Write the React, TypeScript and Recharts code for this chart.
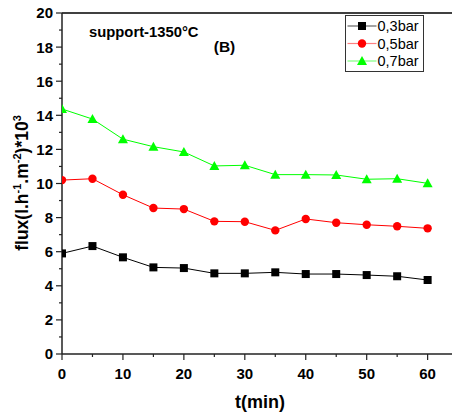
import { LineChart, Line, XAxis, YAxis, ReferenceLine } from 'recharts';

const times = [0, 5, 10, 15, 20, 25, 30, 35, 40, 45, 50, 55, 60];
const flux03 = [5.9, 6.33, 5.67, 5.08, 5.04, 4.73, 4.73, 4.79, 4.69, 4.69, 4.63, 4.56, 4.34];
const flux05 = [10.2, 10.28, 9.34, 8.56, 8.5, 7.78, 7.76, 7.25, 7.92, 7.7, 7.58, 7.49, 7.37];
const flux07 = [14.37, 13.78, 12.6, 12.16, 11.85, 11.03, 11.07, 10.52, 10.52, 10.5, 10.25, 10.28, 10.01];

const xTicks = [0, 5, 10, 15, 20, 25, 30, 35, 40, 45, 50, 55, 60];
const yTicks = [0, 1, 2, 3, 4, 5, 6, 7, 8, 9, 10, 11, 12, 13, 14, 15, 16, 17, 18, 19, 20];

const seriesNames = ['0,3bar', '0,5bar', '0,7bar'];
const seriesColors = ['#000000', '#ff0000', '#00ff00'];
const legendLineColors = ['#666666', '#ff8080', '#80ff80'];

const data = times.map((t, i) => ({
  t,
  p03: flux03[i],
  p05: flux05[i],
  p07: flux07[i],
}));

const FONT = '"Liberation Sans", Arial, sans-serif';
const AXIS = '#222';

function XTick({ x, y, payload }: any) {
  const major = payload.value % 10 === 0;
  return (
    <g>
      <line x1={x} x2={x} y1={y} y2={y + (major ? 6 : 3)} stroke={AXIS} strokeWidth={1.2} />
      {major && (
        <text x={x} y={y + 25} textAnchor="middle" fontFamily={FONT} fontWeight="bold" fontSize={15} fill="#000">
          {payload.value}
        </text>
      )}
    </g>
  );
}

function YTick({ x, y, payload }: any) {
  const major = payload.value % 2 === 0;
  return (
    <g>
      <line x1={x - (major ? 6 : 3)} x2={x} y1={y} y2={y} stroke={AXIS} strokeWidth={1.2} />
      {major && (
        <text x={x - 9} y={y} dy="0.36em" textAnchor="end" fontFamily={FONT} fontWeight="bold" fontSize={15} fill="#000">
          {payload.value}
        </text>
      )}
    </g>
  );
}

function SquareDot({ cx, cy }: any) {
  return <rect x={cx - 4} y={cy - 4} width={8} height={8} fill="#000" />;
}

function CircleDot({ cx, cy }: any) {
  return <circle cx={cx} cy={cy} r={4.2} fill="#ff0000" />;
}

function TriangleDot({ cx, cy }: any) {
  return <path d={`M${cx},${cy - 5} L${cx + 5},${cy + 4} L${cx - 5},${cy + 4} Z`} fill="#00ff00" />;
}

const markers = [SquareDot, CircleDot, TriangleDot];

function LegendBox() {
  const x0 = 345.5;
  const y0 = 15.5;
  return (
    <g>
      <rect x={x0} y={y0} width={78} height={56} fill="#fff" stroke="#333" strokeWidth={1} />
      {seriesNames.map((name, i) => {
        const cy = 26 + i * 17.5;
        const Marker = markers[i];
        return (
          <g key={name}>
            <line x1={x0 + 2} x2={x0 + 31} y1={cy} y2={cy} stroke={legendLineColors[i]} strokeWidth={1.2} />
            <Marker cx={x0 + 16.5} cy={cy} />
            <text x={x0 + 32} y={cy + 5} fontFamily={FONT} fontSize={14.5} fill="#000">
              {name}
            </text>
          </g>
        );
      })}
    </g>
  );
}

export default function App() {
  return (
    <div style={{ position: 'absolute', left: 0, top: 0, background: '#fff' }}>
      <LineChart
        width={452}
        height={417}
        data={data}
        margin={{ top: 13, right: 0, bottom: 0, left: 0 }}
      >
        <XAxis
          type="number"
          dataKey="t"
          domain={[0, 64]}
          ticks={xTicks}
          interval={0}
          height={63}
          tickSize={0}
          tickMargin={0}
          tick={<XTick />}
          axisLine={{ stroke: AXIS, strokeWidth: 1.5 }}
          allowDataOverflow
        />
        <YAxis
          type="number"
          domain={[0, 20]}
          ticks={yTicks}
          interval={0}
          width={62}
          tickSize={0}
          tickMargin={0}
          tick={<YTick />}
          axisLine={{ stroke: AXIS, strokeWidth: 1.5 }}
          allowDataOverflow
        />
        <ReferenceLine y={20} stroke="#000" strokeWidth={1.5} />
        <Line dataKey="p03" name={seriesNames[0]} stroke={seriesColors[0]} strokeWidth={1} dot={<SquareDot />} isAnimationActive={false} />
        <Line dataKey="p05" name={seriesNames[1]} stroke={seriesColors[1]} strokeWidth={1} dot={<CircleDot />} isAnimationActive={false} />
        <Line dataKey="p07" name={seriesNames[2]} stroke={seriesColors[2]} strokeWidth={1} dot={<TriangleDot />} isAnimationActive={false} />
        <LegendBox />
        <text x={89} y={37} fontFamily={FONT} fontWeight="bold" fontSize={14.8} fill="#000">
          support-1350°C
        </text>
        <text x={224.5} y={52} textAnchor="middle" fontFamily={FONT} fontWeight="bold" fontSize={15.5} fill="#000">
          (B)
        </text>
        <text x={260} y={408} textAnchor="middle" fontFamily={FONT} fontWeight="bold" fontSize={18} fill="#000">
          t(min)
        </text>
        <text transform="translate(28, 183) rotate(-90)" textAnchor="middle" fontFamily={FONT} fontWeight="bold" fontSize={17.5} fill="#000">
          flux(l.h
          <tspan dy={-7} fontSize={11}>-1</tspan>
          <tspan dy={7}>.m</tspan>
          <tspan dy={-7} fontSize={11}>-2</tspan>
          <tspan dy={7}>)*10</tspan>
          <tspan dy={-7} fontSize={11}>3</tspan>
        </text>
      </LineChart>
    </div>
  );
}
